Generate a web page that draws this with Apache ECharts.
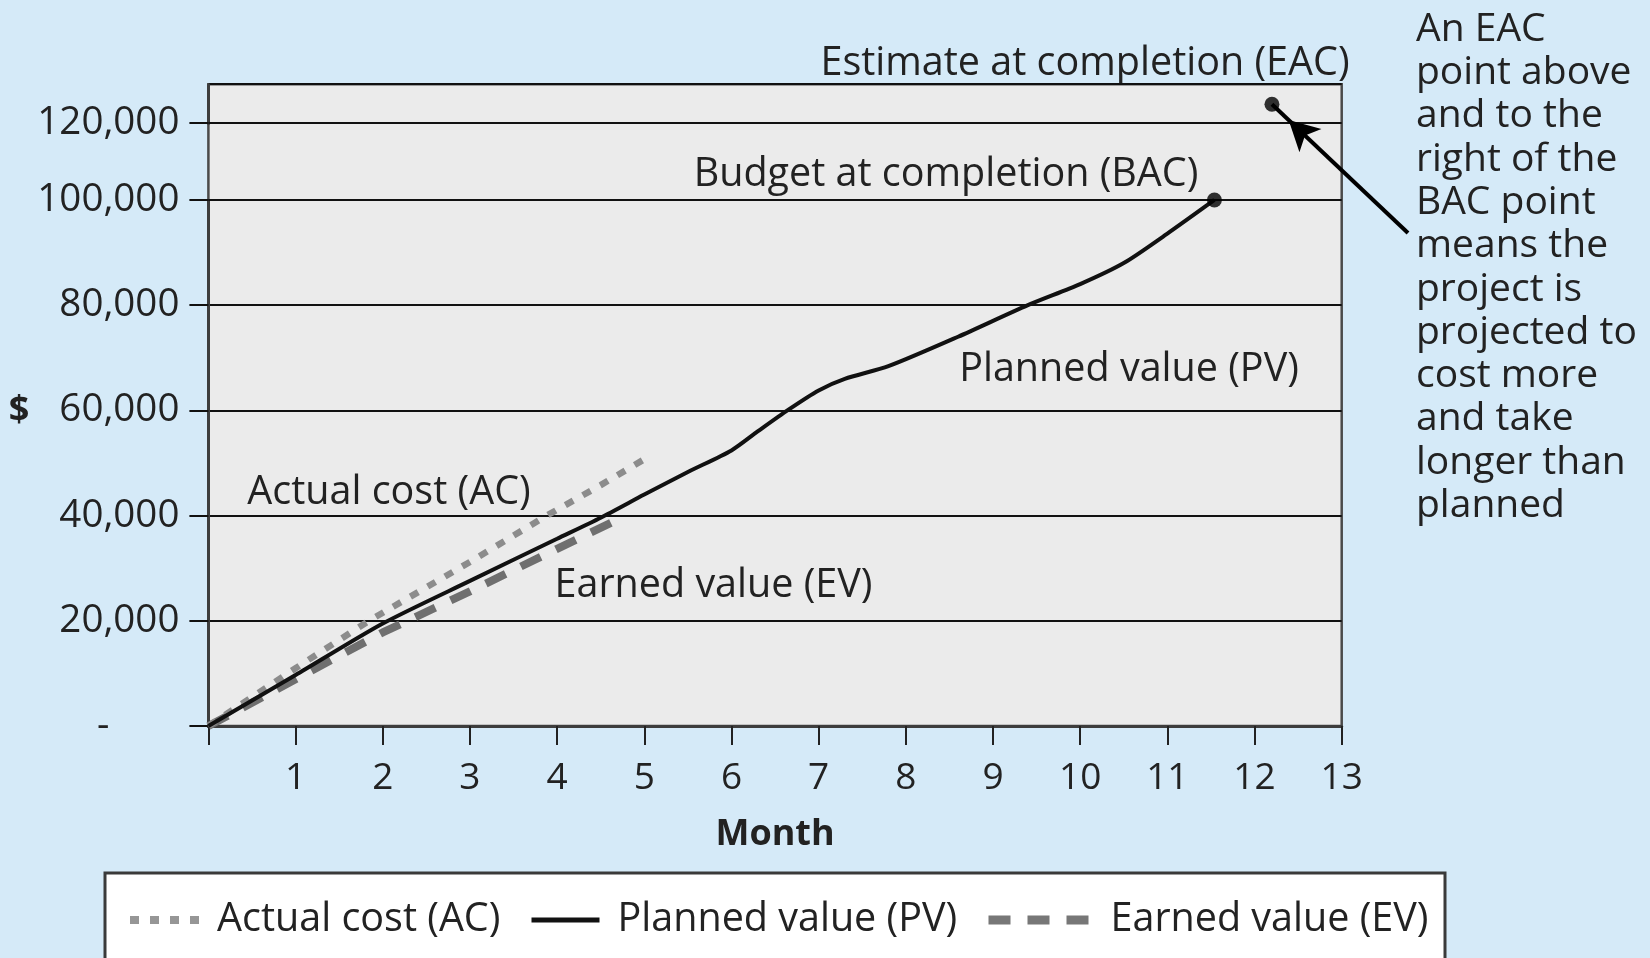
<!DOCTYPE html>
<html><head><meta charset="utf-8">
<script src="https://cdn.jsdelivr.net/npm/echarts@6/dist/echarts.min.js"></script>
<style>html,body{margin:0;padding:0;background:#d5eaf8;}#c{width:1650px;height:958px;}</style>
</head><body><div id="c"></div>
<script>
// ---- data ----
const seriesNames = ['Actual cost (AC)', 'Planned value (PV)', 'Earned value (EV)'];
const acMonths = [0, 1, 1.84, 3, 3.88, 4.5, 5.07];
const acValues = [0, 11000, 20000, 31200, 40000, 45800, 51400];
const pvMonths = [0, 1, 2, 3, 4, 4.5, 5, 5.5, 6, 6.3, 6.65, 7, 7.3, 7.8, 8.6, 9.4, 10, 10.5, 11, 11.54];
const pvValues = [0, 9700, 19500, 27600, 35600, 39600, 44000, 48300, 52400, 56000, 60100, 63800, 66000, 68400, 74000, 80000, 84000, 88000, 93600, 100000];
const evMonths = [0, 1, 2, 3, 4, 4.7];
const evValues = [0, 8900, 17800, 25600, 33700, 39300];
const milestoneNames = ['Budget at completion (BAC)', 'Estimate at completion (EAC)'];
const milestoneMonths = [11.54, 12.2];
const milestoneValues = [100000, 123600];
const monthTickLabels = ['', '1', '2', '3', '4', '5', '6', '7', '8', '9', '10', '11', '12', '13'];
const breakGridValues = [100000, 120000];
const yAxisTitle = '$';
const xAxisTitle = 'Month';
const calloutLines = ['An EAC', 'point above', 'and to the', 'right of the', 'BAC point', 'means the', 'project is', 'projected to', 'cost more', 'and take', 'longer than', 'planned'];

const pairs = (xs, ys) => xs.map((x, i) => [x, ys[i]]);
const FONT = '"Open Sans", "Noto Sans", sans-serif';
const TXT = '#222';
const fmtNum = v => v.toLocaleString('en-US');
const ANN = '39.5px ' + FONT;

const chart = echarts.init(document.getElementById('c'), null, {renderer: 'canvas'});
const legendBase = {top: 900, itemHeight: 30, padding: 0, selectedMode: false,
  itemStyle: {opacity: 0, borderWidth: 0}};
chart.setOption({
  animation: false,
  backgroundColor: '#d5eaf8',
  textStyle: {fontFamily: FONT},
  grid: {left: 208.4, top: 84.2, width: 1133.3, height: 641.9, show: true,
         backgroundColor: '#ebebeb', borderColor: '#4a4a4a', borderWidth: 2.5},
  xAxis: {
    type: 'value', min: 0, max: 13, interval: 1,
    name: xAxisTitle, nameLocation: 'middle', nameGap: 91,
    nameTextStyle: {fontFamily: FONT, fontSize: 36, fontWeight: 'bold', color: TXT},
    axisLine: {show: true, lineStyle: {color: '#3d3d3d', width: 3}},
    axisTick: {show: true, inside: false, length: 19, lineStyle: {color: '#222', width: 2}},
    splitLine: {show: false},
    axisLabel: {margin: 34, fontFamily: FONT, fontSize: 37, color: TXT,
                formatter: v => monthTickLabels[Math.round(v)] ?? String(v)}
  },
  yAxis: {
    type: 'value', min: 0, max: 127400, interval: 20000,
    breaks: [{start: 100000, end: 120000, gap: 14600}],
    breakArea: {show: false},
    axisLine: {show: true, lineStyle: {color: '#3d3d3d', width: 3}},
    axisTick: {show: true, inside: false, length: 19, lineStyle: {color: '#111', width: 2}},
    splitLine: {show: true, lineStyle: {color: '#111', width: 2}},
    axisLabel: {margin: 29, fontFamily: FONT, fontSize: 38.5, color: TXT,
      formatter: v => v === 0 ? '{z|-}' : fmtNum(v),
      rich: {z: {fontFamily: FONT, fontSize: 38.5, color: TXT, padding: [0, 70, 0, 0]}}}
  },
  legend: [
    Object.assign({}, legendBase, {data: [seriesNames[0]], left: 126, itemWidth: 69,
     textStyle: {fontFamily: FONT, fontSize: 39.5, color: TXT, padding: [0, 0, 0, 13]},
     lineStyle: {color: '#969696', width: 8, type: [9, 11], cap: 'butt'}}),
    Object.assign({}, legendBase, {data: [seriesNames[1]], left: 529, itemWidth: 68,
     textStyle: {fontFamily: FONT, fontSize: 39.5, color: TXT, padding: [0, 0, 0, 13]},
     lineStyle: {color: '#111', width: 5, type: 'solid'}}),
    Object.assign({}, legendBase, {data: [seriesNames[2]], left: 984, itemWidth: 100,
     textStyle: {fontFamily: FONT, fontSize: 39.5, color: TXT, padding: [0, 0, 0, 17]},
     lineStyle: {color: '#777', width: 9, type: [22, 17], cap: 'butt'}})
  ],
  graphic: [
    {type: 'rect', z: 0, shape: {x: 105, y: 873, width: 1340, height: 110},
     style: {fill: '#fff', stroke: '#3a3a3a', lineWidth: 3}},
    {type: 'text', x: 19, y: 411, style: {text: yAxisTitle, font: 'bold 36px ' + FONT, fill: TXT, align: 'center', verticalAlign: 'middle'}},
    {type: 'text', x: 1085, y: 64, style: {text: milestoneNames[1], font: ANN, fill: TXT, align: 'center', verticalAlign: 'middle'}},
    {type: 'text', x: 946, y: 175, style: {text: milestoneNames[0], font: ANN, fill: TXT, align: 'center', verticalAlign: 'middle'}},
    {type: 'text', x: 1129, y: 369.5, style: {text: seriesNames[1], font: ANN, fill: TXT, align: 'center', verticalAlign: 'middle'}},
    {type: 'text', x: 389, y: 492.5, style: {text: seriesNames[0], font: ANN, fill: TXT, align: 'center', verticalAlign: 'middle'}},
    {type: 'text', x: 713.5, y: 585.5, style: {text: seriesNames[2], font: ANN, fill: TXT, align: 'center', verticalAlign: 'middle'}},
    {type: 'text', x: 1416, y: 8, style: {text: calloutLines.join('\n'), font: '39px ' + FONT, lineHeight: 43.3, fill: TXT, align: 'left', verticalAlign: 'top'}}
  ],
  series: [
    {name: seriesNames[2], type: 'line', data: pairs(evMonths, evValues), symbol: 'none', z: 2,
     lineStyle: {color: '#6f6f6f', width: 8, type: [22, 17], cap: 'butt'}, itemStyle: {color: '#6f6f6f'}},
    {name: seriesNames[0], type: 'line', data: pairs(acMonths, acValues), symbol: 'none', z: 3,
     lineStyle: {color: '#8c8c8c', width: 6.5, type: [9, 11], cap: 'butt'}, itemStyle: {color: '#8c8c8c'}},
    {name: seriesNames[1], type: 'line', data: pairs(pvMonths, pvValues), symbol: 'none', smooth: 0.25, z: 4,
     lineStyle: {color: '#111', width: 4}, itemStyle: {color: '#111'},
     markLine: {silent: true, symbol: ['none', 'none'], label: {show: false},
       lineStyle: {color: '#111', width: 2, type: 'solid'},
       data: breakGridValues.map(v => ({yAxis: v}))}},
    {name: 'milestones', type: 'scatter', data: pairs(milestoneMonths, milestoneValues), symbol: 'circle', symbolSize: 15, z: 5,
     itemStyle: {color: '#000'}, silent: true,
     markLine: {silent: true, symbol: ['none', 'arrow'], symbolSize: [24, 30], symbolOffset: [0, [0, 23]], label: {show: false},
       lineStyle: {color: '#000', width: 4, type: 'solid'},
       data: [[{x: 1408, y: 233}, {coord: [milestoneMonths[1], milestoneValues[1]]}]]}}
  ]
});
</script></body></html>
